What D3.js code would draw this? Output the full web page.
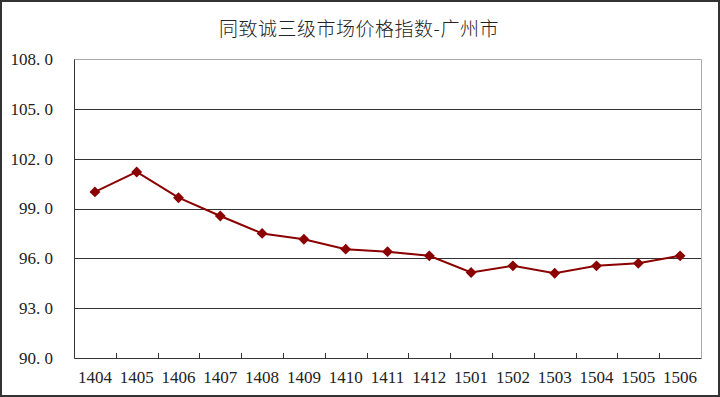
<!DOCTYPE html>
<html>
<head>
<meta charset="utf-8">
<script src="https://cdn.jsdelivr.net/npm/d3@7"></script>
<style>
  body { margin: 0; background: #fff; }
  svg { display: block; }
</style>
</head>
<body>
<div class="chart"></div>
<script>
var titleText = "同致诚三级市场价格指数-广州市";
var months = ["1404", "1405", "1406", "1407", "1408", "1409", "1410", "1411", "1412",
              "1501", "1502", "1503", "1504", "1505", "1506"];
var indexValues = [100.0, 101.2, 99.65, 98.55, 97.5, 97.15, 96.55, 96.4, 96.15,
                   95.15, 95.55, 95.1, 95.55, 95.7, 96.15];
var yTicks = [90, 93, 96, 99, 102, 105, 108];

var svgWidth = 720;
var svgHeight = 397;
var margin = { top: 59, right: 19, bottom: 39, left: 74 };
var width = svgWidth - margin.left - margin.right;
var height = svgHeight - margin.top - margin.bottom;

var serif = "'Liberation Serif', 'DejaVu Serif', 'Times New Roman', serif";

var svg = d3.select(".chart")
    .append("svg")
    .attr("width", svgWidth)
    .attr("height", svgHeight);

// outer frame
svg.append("rect")
    .attr("x", 1).attr("y", 1)
    .attr("width", svgWidth - 2).attr("height", svgHeight - 2)
    .attr("fill", "#fff")
    .attr("stroke", "#333")
    .attr("stroke-width", 2);

svg.append("text")
    .attr("x", 359)
    .attr("y", 27)
    .attr("text-anchor", "middle")
    .attr("dominant-baseline", "central")
    .style("font-family", "'Noto Sans CJK SC', sans-serif")
    .style("font-size", "19px")
    .style("font-weight", 300)
    .style("letter-spacing", "0.5px")
    .style("fill", "#222")
    .text(titleText);

var chart = svg.append("g")
    .attr("transform", "translate(" + margin.left + "," + margin.top + ")");

var xScale = d3.scaleBand().domain(months).range([0, width]);
var yScale = d3.scaleLinear().domain([90, 108]).range([height, 0]);

// plot area border (top / right light gray)
chart.append("path")
    .attr("d", "M0,0.5H" + (width + 0.5) + "V" + height)
    .attr("fill", "none")
    .attr("stroke", "#aaa")
    .attr("stroke-width", 1);

// gridlines
chart.selectAll(".grid")
    .data(yTicks.filter(function(d) { return d > 90 && d < 108; }))
    .enter()
    .append("line")
    .attr("x1", 0).attr("x2", width)
    .attr("y1", function(d) { return Math.round(yScale(d)) + 0.5; })
    .attr("y2", function(d) { return Math.round(yScale(d)) + 0.5; })
    .attr("stroke", "#333")
    .attr("stroke-width", 1);

// y axis
var leftAxis = d3.axisLeft(yScale)
    .tickValues(yTicks)
    .tickSize(0)
    .tickPadding(21)
    .tickFormat(function(d) { return d3.format(".1f")(d).replace(".", ". "); });

var yAxis = chart.append("g").call(leftAxis).attr("font-family", serif);
yAxis.select(".domain").attr("stroke", "#333");
yAxis.selectAll("text")
    .style("font-family", serif)
    .style("font-size", "17px")
    .style("fill", "#222")
    .style("white-space", "pre");

// x axis
var bottomAxis = d3.axisBottom(xScale).tickSize(0).tickPadding(13);
var xAxis = chart.append("g")
    .attr("transform", "translate(0," + height + ")")
    .call(bottomAxis)
    .attr("font-family", serif);
xAxis.select(".domain").attr("stroke", "#333");
xAxis.selectAll("text")
    .style("font-family", serif)
    .style("font-size", "17px")
    .style("fill", "#222");

// category boundary ticks pointing up
chart.selectAll(".xtick")
    .data(months.slice(1))
    .enter()
    .append("line")
    .attr("x1", function(d) { return Math.round(xScale(d)) + 0.5; })
    .attr("x2", function(d) { return Math.round(xScale(d)) + 0.5; })
    .attr("y1", height)
    .attr("y2", height - 5)
    .attr("stroke", "#333");

// series line
var line = d3.line()
    .x(function(d, i) { return xScale(months[i]) + xScale.bandwidth() / 2; })
    .y(function(d) { return yScale(d); });

chart.append("path")
    .datum(indexValues)
    .attr("d", line)
    .attr("fill", "none")
    .attr("stroke", "#8b0000")
    .attr("stroke-width", 2);

chart.selectAll(".marker")
    .data(indexValues)
    .enter()
    .append("path")
    .attr("d", d3.symbol().type(d3.symbolDiamond2).size(75))
    .attr("transform", function(d, i) {
        return "translate(" + (xScale(months[i]) + xScale.bandwidth() / 2) + "," + yScale(d) + ")";
    })
    .attr("fill", "#8b0000");
</script>
</body>
</html>
